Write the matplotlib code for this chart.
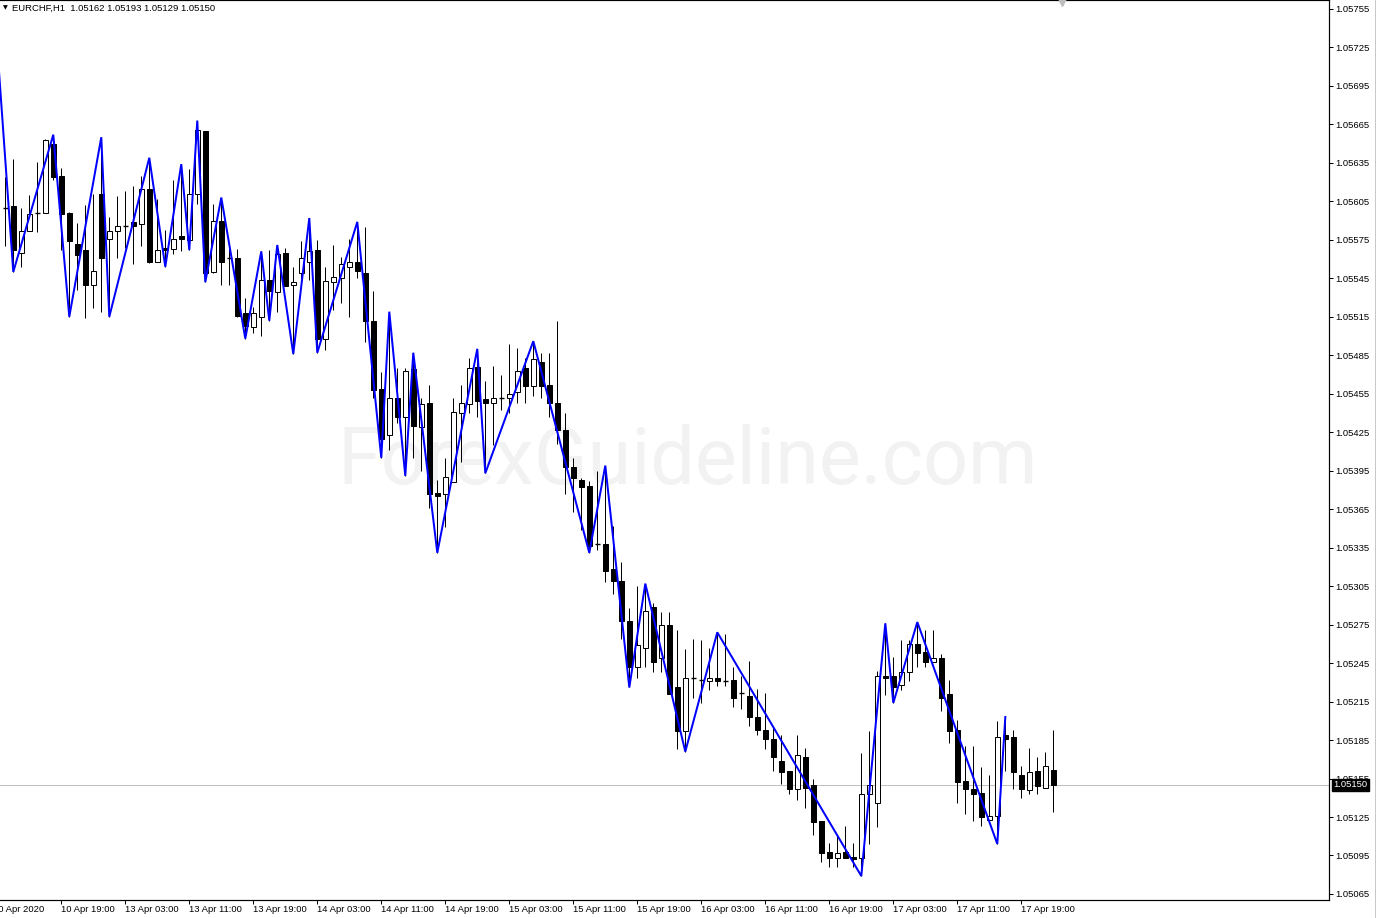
import matplotlib
matplotlib.use("Agg")
import matplotlib.pyplot as plt
import matplotlib.transforms as mtransforms
from matplotlib.lines import Line2D
import numpy as np

# EURCHF H1, 10 Apr 12:00 -> 17 Apr 23:00
opens = [1.05600, 1.05601, 1.05565, 1.05582, 1.05596, 1.05596, 1.05650, 1.05625, 1.05596, 1.05572,
         1.05567, 1.05540, 1.05611, 1.05576, 1.05582, 1.05586, 1.05589, 1.05587, 1.05615, 1.05558,
         1.05569, 1.05568, 1.05578, 1.05575, 1.05611, 1.05660, 1.05550, 1.05590, 1.05561, 1.05561,
         1.05518, 1.05507, 1.05515, 1.05544, 1.05534, 1.05565, 1.05540, 1.05549, 1.05558, 1.05567,
         1.05498, 1.05542, 1.05545, 1.05554, 1.05558, 1.05549, 1.05512, 1.05459, 1.05423, 1.05452,
         1.05437, 1.05474, 1.05429, 1.05448, 1.05378, 1.05377, 1.05386, 1.05440, 1.05447, 1.05476,
         1.05451, 1.05448, 1.05452, 1.05452, 1.05456, 1.05475, 1.05461, 1.05480, 1.05462, 1.05448,
         1.05427, 1.05398, 1.05388, 1.05383, 1.05338, 1.05338, 1.05318, 1.05309, 1.05278, 1.05242,
         1.05257, 1.05289, 1.05249, 1.05275, 1.05226, 1.05192, 1.05233, 1.05232, 1.05231, 1.05233,
         1.05231, 1.05232, 1.05222, 1.05219, 1.05203, 1.05193, 1.05186, 1.05169, 1.05161, 1.05147,
         1.05172, 1.05150, 1.05122, 1.05098, 1.05093, 1.05098, 1.05094, 1.05093, 1.05143, 1.05136,
         1.05235, 1.05235, 1.05228, 1.05238, 1.05260, 1.05254, 1.05246, 1.05249, 1.05221, 1.05193,
         1.05153, 1.05147, 1.05144, 1.05123, 1.05126, 1.05189, 1.05187, 1.05158, 1.05146, 1.05161,
         1.05148, 1.05162]
highs = [1.05624, 1.05638, 1.05600, 1.05610, 1.05636, 1.05654, 1.05657, 1.05631, 1.05597, 1.05588,
         1.05602, 1.05611, 1.05655, 1.05593, 1.05609, 1.05613, 1.05617, 1.05625, 1.05639, 1.05607,
         1.05583, 1.05622, 1.05634, 1.05630, 1.05668, 1.05660, 1.05603, 1.05608, 1.05569, 1.05568,
         1.05530, 1.05523, 1.05566, 1.05567, 1.05571, 1.05569, 1.05554, 1.05574, 1.05592, 1.05575,
         1.05554, 1.05571, 1.05562, 1.05576, 1.05589, 1.05585, 1.05535, 1.05472, 1.05519, 1.05475,
         1.05475, 1.05487, 1.05452, 1.05462, 1.05388, 1.05405, 1.05452, 1.05462, 1.05483, 1.05490,
         1.05465, 1.05477, 1.05470, 1.05494, 1.05491, 1.05483, 1.05496, 1.05487, 1.05487, 1.05512,
         1.05440, 1.05405, 1.05389, 1.05387, 1.05395, 1.05399, 1.05352, 1.05324, 1.05288, 1.05305,
         1.05307, 1.05292, 1.05285, 1.05285, 1.05271, 1.05256, 1.05264, 1.05263, 1.05257, 1.05269,
         1.05268, 1.05242, 1.05235, 1.05247, 1.05225, 1.05222, 1.05195, 1.05189, 1.05161, 1.05189,
         1.05179, 1.05155, 1.05122, 1.05105, 1.05111, 1.05118, 1.05105, 1.05175, 1.05192, 1.05239,
         1.05276, 1.05250, 1.05263, 1.05263, 1.05277, 1.05271, 1.05271, 1.05252, 1.05232, 1.05201,
         1.05180, 1.05180, 1.05164, 1.05158, 1.05200, 1.05203, 1.05193, 1.05165, 1.05179, 1.05172,
         1.05176, 1.05193]
lows = [1.05570, 1.05550, 1.05554, 1.05582, 1.05581, 1.05596, 1.05622, 1.05567, 1.05515, 1.05536,
        1.05514, 1.05522, 1.05519, 1.05515, 1.05561, 1.05569, 1.05556, 1.05570, 1.05557, 1.05558,
        1.05554, 1.05564, 1.05566, 1.05567, 1.05603, 1.05542, 1.05549, 1.05540, 1.05540, 1.05515,
        1.05498, 1.05502, 1.05500, 1.05512, 1.05519, 1.05539, 1.05486, 1.05544, 1.05544, 1.05487,
        1.05489, 1.05520, 1.05526, 1.05515, 1.05545, 1.05495, 1.05452, 1.05405, 1.05411, 1.05432,
        1.05391, 1.05405, 1.05395, 1.05366, 1.05331, 1.05351, 1.05386, 1.05402, 1.05440, 1.05437,
        1.05393, 1.05415, 1.05442, 1.05440, 1.05448, 1.05448, 1.05453, 1.05452, 1.05437, 1.05416,
        1.05377, 1.05363, 1.05349, 1.05331, 1.05333, 1.05308, 1.05299, 1.05264, 1.05226, 1.05233,
        1.05242, 1.05238, 1.05238, 1.05221, 1.05178, 1.05176, 1.05218, 1.05214, 1.05224, 1.05227,
        1.05227, 1.05211, 1.05209, 1.05196, 1.05189, 1.05178, 1.05161, 1.05151, 1.05143, 1.05138,
        1.05132, 1.05111, 1.05090, 1.05086, 1.05086, 1.05093, 1.05086, 1.05079, 1.05104, 1.05117,
        1.05220, 1.05214, 1.05224, 1.05231, 1.05242, 1.05242, 1.05246, 1.05208, 1.05183, 1.05136,
        1.05127, 1.05122, 1.05118, 1.05123, 1.05104, 1.05161, 1.05147, 1.05140, 1.05143, 1.05143,
        1.05148, 1.05129]
closes = [1.05600, 1.05567, 1.05582, 1.05595, 1.05596, 1.05653, 1.05624, 1.05595, 1.05574, 1.05563,
          1.05540, 1.05551, 1.05561, 1.05582, 1.05586, 1.05586, 1.05586, 1.05615, 1.05558, 1.05567,
          1.05567, 1.05576, 1.05576, 1.05611, 1.05661, 1.05549, 1.05590, 1.05558, 1.05561, 1.05516,
          1.05508, 1.05518, 1.05544, 1.05535, 1.05564, 1.05539, 1.05542, 1.05561, 1.05566, 1.05498,
          1.05543, 1.05546, 1.05556, 1.05558, 1.05551, 1.05512, 1.05458, 1.05420, 1.05452, 1.05437,
          1.05473, 1.05430, 1.05447, 1.05377, 1.05375, 1.05390, 1.05441, 1.05448, 1.05475, 1.05449,
          1.05448, 1.05452, 1.05452, 1.05455, 1.05473, 1.05461, 1.05482, 1.05461, 1.05448, 1.05427,
          1.05398, 1.05389, 1.05382, 1.05336, 1.05338, 1.05317, 1.05309, 1.05278, 1.05242, 1.05259,
          1.05286, 1.05246, 1.05275, 1.05221, 1.05192, 1.05233, 1.05233, 1.05232, 1.05233, 1.05231,
          1.05231, 1.05218, 1.05222, 1.05203, 1.05193, 1.05186, 1.05172, 1.05160, 1.05147, 1.05173,
          1.05148, 1.05121, 1.05097, 1.05093, 1.05097, 1.05093, 1.05092, 1.05143, 1.05150, 1.05235,
          1.05233, 1.05226, 1.05238, 1.05260, 1.05253, 1.05246, 1.05249, 1.05218, 1.05192, 1.05152,
          1.05147, 1.05143, 1.05125, 1.05126, 1.05187, 1.05186, 1.05160, 1.05147, 1.05160, 1.05149,
          1.05165, 1.05150]

# pivots du ZigZag : (indice de barre, 'H' ou 'L'); le premier sommet est hors ecran
zz_debut = (-1, 1.05725)
zz_pivots = [(1, 'L'), (6, 'H'), (8, 'L'), (12, 'H'), (13, 'L'), (18, 'H'), (20, 'L'), (22, 'H'),
             (23, 'L'), (24, 'H'), (25, 'L'), (27, 'H'), (30, 'L'), (32, 'H'), (33, 'L'), (34, 'H'),
             (36, 'L'), (38, 'H'), (39, 'L'), (44, 'H'), (47, 'L'), (48, 'H'), (50, 'L'), (51, 'H'),
             (54, 'L'), (59, 'H'), (60, 'L'), (66, 'H'), (73, 'L'), (75, 'H'), (78, 'L'), (80, 'H'),
             (85, 'L'), (89, 'H'), (107, 'L'), (110, 'H'), (111, 'L'), (114, 'H'), (124, 'L'), (125, 'H')]

date_labels = ["10 Apr 2020", "10 Apr 19:00", "13 Apr 03:00", "13 Apr 11:00", "13 Apr 19:00",
               "14 Apr 03:00", "14 Apr 11:00", "14 Apr 19:00", "15 Apr 03:00", "15 Apr 11:00",
               "15 Apr 19:00", "16 Apr 03:00", "16 Apr 11:00", "16 Apr 19:00", "17 Apr 03:00",
               "17 Apr 11:00", "17 Apr 19:00"]
symbole = "EURCHF,H1"
prix_actuel = closes[-1]

POLICE = "Liberation Sans"
TAILLE = 6.8
W, H = 1376, 918
PX = 72.0 / 100  # 1 pixel en points

fig = plt.figure(figsize=(W / 100, H / 100), dpi=100, facecolor="white")
ax = fig.add_axes([0, 18 / H, 1329 / W, 900 / H])
ax.set_facecolor("white")

x = np.arange(len(opens))
o = np.array(opens)
c = np.array(closes)
hauts = np.array(highs)
bas = np.array(lows)

# meches
ax.vlines(x, bas, hauts, color="black", linewidth=PX, zorder=2)

# corps
larg = 0.62
haussier = c > o
baissier = c < o
doji = c == o
ax.bar(x[haussier], (c - o)[haussier], bottom=o[haussier], width=larg, color="white",
       edgecolor="black", linewidth=PX, zorder=3)
ax.bar(x[baissier], (o - c)[baissier], bottom=c[baissier], width=larg, color="black",
       edgecolor="black", linewidth=PX, zorder=3)
ax.hlines(o[doji], x[doji] - larg / 2, x[doji] + larg / 2, color="black", linewidth=1.4 * PX, zorder=3)

# ZigZag
zx = [zz_debut[0]] + [i for i, t in zz_pivots]
zy = [zz_debut[1]] + [highs[i] if t == 'H' else lows[i] for i, t in zz_pivots]
ax.plot(zx, zy, color="#0000FF", linewidth=2 * PX, zorder=4, solid_joinstyle="miter")

# ligne du prix courant
ax.axhline(prix_actuel, color="#C0C0C0", linewidth=PX, zorder=1)

# filigrane
ax.text(688 / W, 1 - 462 / H, "ForexGuideline.com", transform=fig.transFigure, ha="center",
        va="center", fontsize=57, color="#F2F2F2", family="Roboto", zorder=0.5)

ax.set_xlim(-0.66, 165.46)
ax.set_ylim(1.050603, 1.05762)

# axe des prix a droite
ax.yaxis.tick_right()
ax.set_yticks(np.arange(1.05065, 1.05760, 0.0003))
ax.set_yticklabels(["%.5f" % v for v in np.arange(1.05065, 1.05760, 0.0003)])
ax.tick_params(axis="y", direction="out", length=4 * PX, width=PX, pad=2 * PX,
               labelsize=TAILLE, colors="black")
for lab in ax.get_yticklabels():
    lab.set_family(POLICE)

# axe du temps
pos = np.arange(-1, 128, 8)
ax.set_xticks(pos[1:])
ax.set_xticklabels(date_labels[1:])
ax.tick_params(axis="x", direction="out", length=4 * PX, width=PX, pad=0.8, labelsize=TAILLE)
decal = mtransforms.ScaledTranslation(0, 0, fig.dpi_scale_trans)
for lab in ax.get_xticklabels():
    lab.set_ha("left")
    lab.set_family(POLICE)
    lab.set_transform(lab.get_transform() + decal)
ax.text(pos[0], 0, date_labels[0], transform=mtransforms.blended_transform_factory(ax.transData, ax.transAxes)
        + mtransforms.ScaledTranslation(-4 / 100, -9.5 / 100, fig.dpi_scale_trans),
        ha="left", va="center", fontsize=TAILLE, family=POLICE, clip_on=False)

for cote in ["top", "right", "bottom"]:
    ax.spines[cote].set_linewidth(PX * 1.2)
    ax.spines[cote].set_color("black")
ax.spines["left"].set_visible(False)

# etiquette du prix courant
ax.annotate("%.5f" % prix_actuel, xy=(1, prix_actuel), xycoords=("axes fraction", "data"),
            xytext=(4 * PX, 0), textcoords="offset points", ha="left", va="center",
            fontsize=TAILLE, family=POLICE, color="white", annotation_clip=False, zorder=10,
            bbox=dict(boxstyle="square,pad=0.15", fc="black", ec="black"))

# en-tete
fig.text(3 / W, 1 - 8 / H, "\u25BC", fontsize=4.5, family="DejaVu Sans", va="center", ha="left")
fig.text(12 / W, 1 - 8 / H, "%s  %.5f %.5f %.5f %.5f" % (symbole, opens[-1], highs[-1], lows[-1], closes[-1]),
         fontsize=TAILLE, family=POLICE, va="center", ha="left")

# marqueur de decalage et bord de fenetre
fig.add_artist(Line2D([1061.5 / W], [1 - 2 / H], marker="v", markersize=6, color="#BDBDBD",
                      transform=fig.transFigure))
fig.add_artist(Line2D([1374.5 / W, 1374.5 / W], [0, 1], color="#C8C8C8", linewidth=PX,
                      transform=fig.transFigure))

fig.savefig("out.png", dpi=100, facecolor="white")
